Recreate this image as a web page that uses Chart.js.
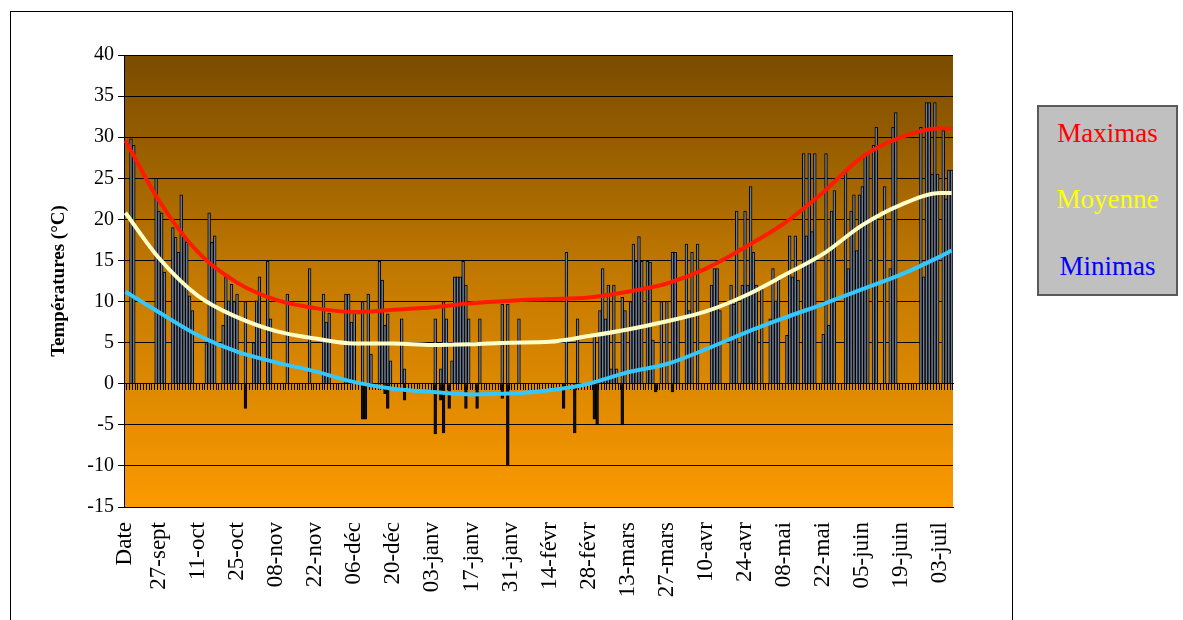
<!DOCTYPE html>
<html>
<head>
<meta charset="utf-8">
<script src="https://cdn.jsdelivr.net/npm/chart.js@4/dist/chart.umd.min.js"></script>
<style>
  html, body { margin: 0; padding: 0; background: #ffffff; }
  #wrap { position: relative; width: 1183px; height: 620px; overflow: hidden; }
  #c { position: absolute; left: 0; top: 0; }
  #frame { position: absolute; left: 10px; top: 11px; width: 1003px; height: 640px; border: 1px solid #000; box-sizing: border-box; pointer-events: none; }
  #legend { position: absolute; left: 1037px; top: 105px; width: 141px; height: 191px; background: #c0c0c0; border: 2px solid #5a5a5a; box-sizing: border-box; font-family: 'Liberation Serif', serif; font-size: 27px; line-height: 32px; text-align: center; }
  #legend div { position: absolute; left: 0; width: 100%; }
</style>
</head>
<body>
<div id="wrap">
  <canvas id="c" width="1183" height="620"></canvas>
  <div id="frame"></div>
  <div id="legend">
    <div style="top:10px;color:#ff0000">Maximas</div>
    <div style="top:76px;color:#ffff00">Moyenne</div>
    <div style="top:143px;color:#0000ff">Minimas</div>
  </div>
</div>
<script>
// ---- categories (first cell is the header "Date", then daily dates 16-sept 2007 .. 07-juil 2008)
const monthNames = ['janv','févr','mars','avr','mai','juin','juil','août','sept','oct','nov','déc'];
const categories = ['Date'];
(function () {
  const d = new Date(2007, 8, 16, 12);
  const end = new Date(2008, 6, 7, 12);
  while (d <= end) {
    categories.push(String(d.getDate()).padStart(2, '0') + '-' + monthNames[d.getMonth()]);
    d.setDate(d.getDate() + 1);
  }
})();

// ---- tick labels shown on the x axis
const tickLabels = ['Date','27-sept','11-oct','25-oct','08-nov','22-nov','06-déc','20-déc','03-janv','17-janv','31-janv','14-févr','28-févr','13-mars','27-mars','10-avr','24-avr','08-mai','22-mai','05-juin','19-juin','03-juil'];

// ---- daily bars (day index -> temperature)
const hiDays = [2,3,11,12,13,14,17,18,19,20,21,22,23,24,29,30,31,32,35,36,37,38,39,40,43,46,47,48,51,52,58,66,71,72,73,79,80,81,82,85,87,88,91,92,93,94,95,99,100,111,113,114,115,117,118,119,120,121,122,123,127,135,137,141,158,162,168,170,171,172,173,174,175,176,178,179,181,182,183,184,185,187,188,189,192,194,196,197,198,201,202,203,205,210,211,212,213,217,218,219,221,222,223,224,225,226,228,231,232,233,234,237,238,239,240,241,243,244,245,246,247,250,251,252,253,254,258,259,260,261,262,263,264,265,266,268,269,272,274,275,276,285,286,287,288,289,290,291,293,294,295,296];
const hiVals = [29.8,29,25,21,20.8,13.6,19,17.8,16,23,18,17.2,10.7,8.9,4.9,20.8,17.2,18,7.1,13,10.1,12.1,10,10.9,10,5,10.1,13,14.9,7.9,10.9,14,10.9,7.5,8.6,10.9,10.9,7.5,8.9,10,10.9,3.6,14.9,12.6,7.1,8.5,2.8,7.9,1.8,7.9,1.8,10,7.9,2.8,13,13,13,14.9,12,7.9,7.9,9.7,9.7,7.9,16,7.9,5.9,8.9,14,7.9,12,1.8,12,1.8,10.5,8.9,10,17,14.9,17.9,14.9,14.9,14.8,5.3,10,10,16,16,7.9,17,8.9,16,17,12,14,14,8.9,12,9.7,21,12,21,12,24,16,12,11.5,7.9,14,10.1,12.6,5.9,18,13,18,12.6,28,18,28,18.5,28,6,28,7.1,21,23.5,26,14,21,23,16.2,23,24,28,28,29,31.2,24,14,31.2,33,31.2,13,34.2,34.2,25.5,34.2,25.5,30.8,22.5,26,26];
const loDays = [43,85,86,93,94,100,111,113,114,116,122,126,135,137,157,161,168,169,178,190,196];
const loVals = [-3,-4.3,-4.3,-1.2,-3,-2,-6.1,-2,-6,-3,-3,-3,-1.8,-10,-3,-6,-4.3,-5,-5,-1,-1];

// ---- smooth curves (values at the labelled days)
const curveDays = [0,12,26,40,54,68,82,96,110,124,138,152,166,180,194,208,222,236,250,264,278,292,296];
const maximas = [29.6,22.3,16.0,12.3,10.2,9.2,8.7,9.0,9.3,9.8,10.1,10.3,10.5,11.2,12.2,14.0,16.6,19.5,23.3,27.6,30.0,31.1,31.0];
const moyenne = [20.8,15.3,10.7,8.1,6.4,5.5,4.9,4.9,4.7,4.8,5.0,5.1,5.8,6.6,7.6,8.8,10.7,13.2,15.8,19.3,21.8,23.2,23.2];
const minimas = [11.2,8.7,5.9,3.9,2.6,1.5,0.2,-0.6,-1.0,-1.3,-1.2,-0.8,0.0,1.4,2.4,4.2,6.2,8.0,9.7,11.5,13.3,15.5,16.2];

const yTicks = { min: -15, max: 40, step: 5 };

function sparse(days, vals) {
  const arr = new Array(categories.length).fill(null);
  days.forEach((d, i) => { arr[d] = vals[i]; });
  return arr;
}

const bgPlugin = {
  id: 'plotBg',
  beforeDraw(chart) {
    const { ctx, chartArea: a } = chart;
    const g = ctx.createLinearGradient(0, a.top, 0, a.bottom);
    g.addColorStop(0, '#7a4c00');
    g.addColorStop(0.5, '#c47a00');
    g.addColorStop(1, '#fb9a00');
    ctx.save();
    ctx.fillStyle = g;
    ctx.fillRect(a.left, a.top, a.right - a.left, a.bottom - a.top);
    ctx.restore();
  }
};

const lineBase = { type: 'line', pointRadius: 0, borderWidth: 4, spanGaps: true, cubicInterpolationMode: 'monotone', order: 0, xAxisID: 'x' };

new Chart(document.getElementById('c'), {
  type: 'bar',
  data: {
    labels: categories,
    datasets: [
      Object.assign({ label: 'Maximas', data: sparse(curveDays, maximas), borderColor: '#ff1a00' }, lineBase),
      Object.assign({ label: 'Moyenne', data: sparse(curveDays, moyenne), borderColor: '#ffffc8' }, lineBase),
      Object.assign({ label: 'Minimas', data: sparse(curveDays, minimas), borderColor: '#33c8ff' }, lineBase),
      { label: 'Jour', data: sparse(hiDays, hiVals), backgroundColor: '#6d7d96', borderColor: '#000000', borderWidth: 1, barPercentage: 1, categoryPercentage: 1, grouped: false, order: 2, xAxisID: 'x' },
      { label: 'Jour bas', data: sparse(loDays, loVals), backgroundColor: '#111111', borderColor: '#000000', borderWidth: 1, barPercentage: 1, categoryPercentage: 1, grouped: false, order: 1, xAxisID: 'x' }
    ]
  },
  options: {
    responsive: false,
    devicePixelRatio: 1,
    animation: false,
    layout: { padding: { left: 40, right: 230, top: 55, bottom: 0 } },
    plugins: { legend: { display: false }, tooltip: { enabled: false } },
    scales: {
      x: {
        type: 'category',
        position: 'bottom',
        grid: { display: false },
        border: { display: true, color: '#000' },
        ticks: {
          autoSkip: false, maxRotation: 90, minRotation: 90, padding: 7,
          color: '#000', font: { family: 'Liberation Serif', size: 23 },
          callback: function (v, i) { const l = categories[i]; return tickLabels.includes(l) ? l : ''; }
        },
        afterFit(s) { s.height = 113; }
      },
      x2: {
        type: 'category',
        axis: 'x',
        position: { y: 0 },
        grid: { drawOnChartArea: false, drawTicks: true, tickLength: 6, color: '#000', lineWidth: 1 },
        border: { display: true, color: '#000' },
        ticks: { display: false, autoSkip: false }
      },
      y: {
        min: yTicks.min, max: yTicks.max,
        grid: { color: '#000', lineWidth: 1, tickLength: 6, drawTicks: true },
        border: { color: '#000' },
        ticks: { stepSize: yTicks.step, padding: 4, color: '#000', font: { family: 'Liberation Serif', size: 20 } },
        title: { display: true, text: 'Températures (°C)', color: '#000', font: { family: 'Liberation Serif', size: 19, weight: 'bold' }, padding: { top: 8, bottom: 0 } },
        afterFit(s) { s.width = 84; }
      }
    }
  },
  plugins: [bgPlugin]
});
</script>
</body>
</html>
